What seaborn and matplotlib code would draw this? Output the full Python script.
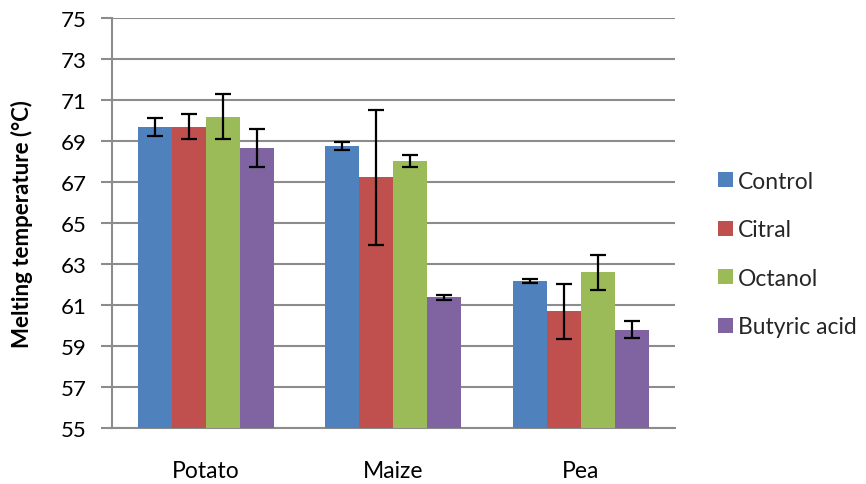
import matplotlib
matplotlib.use("Agg")
import matplotlib.pyplot as plt
import seaborn as sns
import pandas as pd
import numpy as np
from matplotlib.patches import Patch

# Melting temperatures (°C) per starch source and treatment
crops = ["Potato", "Maize", "Pea"]
treatments = ["Control", "Citral", "Octanol", "Butyric acid"]
control = [69.7, 68.78, 62.19]
citral = [69.71, 67.23, 60.69]
octanol = [70.2, 68.04, 62.6]
butyric = [68.65, 61.38, 59.8]
control_err = [0.43, 0.19, 0.10]
citral_err = [0.59, 3.28, 1.35]
octanol_err = [1.12, 0.28, 0.85]
butyric_err = [0.92, 0.11, 0.42]

colors = ["#4F81BD", "#C0504D", "#9BBB59", "#8064A2"]
values = [control, citral, octanol, butyric]
errors = [control_err, citral_err, octanol_err, butyric_err]

rows = []
for t, vals, errs in zip(treatments, values, errors):
    for c, v, e in zip(crops, vals, errs):
        rows.append({"crop": c, "treatment": t, "temp": v, "err": e})
df = pd.DataFrame(rows)

sns.set_theme(style="white")
plt.rcParams["font.family"] = ["Lato", "DejaVu Sans"]

fig = plt.figure(figsize=(8.66, 4.85), dpi=100)
ax = fig.add_axes([0.129, 0.1155, 0.650, 0.845])

grid_color = "#8C8C8C"

sns.barplot(data=df, x="crop", y="temp", hue="treatment", order=crops,
            hue_order=treatments, palette=colors, errorbar=None,
            width=0.725, gap=0, saturation=1, ax=ax, zorder=3,
            edgecolor="none", legend=False)

# Bars are drawn from the bottom of the axis (55 °C)
for cont in ax.containers:
    for bar in cont:
        top = bar.get_y() + bar.get_height()
        bar.set_y(55)
        bar.set_height(top - 55)

# Error bars centred on each bar
for cont, t in zip(ax.containers, treatments):
    sub = df[df.treatment == t].set_index("crop").loc[crops]
    xs = [b.get_x() + b.get_width() / 2 for b in cont]
    ax.errorbar(xs, sub["temp"].values, yerr=sub["err"].values, fmt="none",
                ecolor="black", elinewidth=1.6, capsize=6, capthick=1.6,
                zorder=4)

ax.set_ylim(55, 75)
ax.set_xlim(-0.5, 2.5)
ax.set_yticks(np.arange(55, 76, 2))
ax.yaxis.grid(True, color=grid_color, linewidth=1.5, zorder=0)
ax.set_axisbelow(True)

for side in ["top", "right"]:
    ax.spines[side].set_visible(False)
for side in ["left", "bottom"]:
    ax.spines[side].set_color(grid_color)
    ax.spines[side].set_linewidth(1.5)

ax.set_xticks([0, 1, 2])
ax.set_xticklabels(crops)
ax.set_xticks([-0.5, 0.5, 1.5, 2.5], minor=True)
ax.tick_params(axis="x", which="major", length=0, pad=23, labelsize=16.5,
               labelcolor="black")
ax.tick_params(axis="x", which="minor", length=7, width=1.5, color=grid_color,
               direction="out")
ax.tick_params(axis="y", length=8, width=1.5, color=grid_color,
               direction="out", pad=10, labelsize=16, labelcolor="black",
               left=True)
ax.set_xlabel("")
ax.set_ylabel("Melting temperature (°C)", fontsize=16, fontweight="bold",
              color="black")
ax.yaxis.set_label_coords(-0.139, 0.5)

handles = [Patch(facecolor=c, edgecolor="none") for c in colors]
fig.legend(handles, treatments, loc="center left",
           bbox_to_anchor=(0.819, 0.474), frameon=False, fontsize=16.5,
           handlelength=0.65, handleheight=0.65, handletextpad=0.22,
           labelspacing=1.2, borderaxespad=0)

fig.savefig("out.png", dpi=100)
